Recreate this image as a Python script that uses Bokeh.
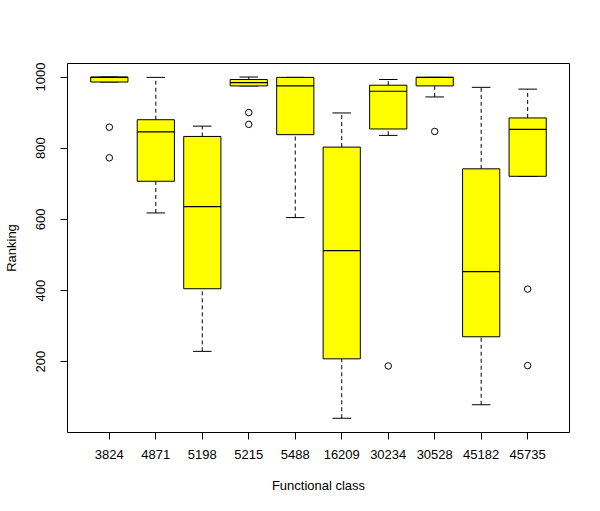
from bokeh.plotting import figure
from bokeh.models import Range1d, FixedTicker, ColumnDataSource
from bokeh.embed import file_html
from bokeh.resources import INLINE

categories = ["3824", "4871", "5198", "5215", "5488", "16209", "30234", "30528", "45182", "45735"]
whisker_low = [986, 618, 229, 975, 605, 41, 836, 944, 79, 721]
q1 = [986, 707, 405, 975, 838, 208, 854, 975, 270, 721]
median = [999, 846, 636, 984, 975, 512, 960, 999, 453, 853]
q3 = [1000, 880, 833, 993, 999, 803, 977, 999, 742, 885]
whisker_high = [1000, 999, 862, 1000, 999, 899, 993, 999, 971, 966]
outlier_cat = ["3824", "3824", "5215", "5215", "30234", "30528", "45735", "45735"]
outlier_val = [859, 773, 900, 867, 188, 847, 404, 189]
y_ticks = [200, 400, 600, 800, 1000]

FONT = "Liberation Sans"

xs = [i + 1 for i in range(len(categories))]
pos = {c: i + 1 for i, c in enumerate(categories)}

p = figure(width=592, height=503, output_backend="svg", toolbar_location=None,
           x_range=Range1d(0.1, 10.9), y_range=Range1d(1, 1038),
           min_border_left=64, min_border_right=23, min_border_top=63, min_border_bottom=71)
p.background_fill_color = "white"
p.border_fill_color = "white"
p.outline_line_color = "black"
p.outline_line_width = 1
p.grid.visible = False

src = ColumnDataSource(dict(x=xs, lo=whisker_low, q1=q1, med=median, q3=q3, hi=whisker_high,
                            x0=[x - 0.2 for x in xs], x1=[x + 0.2 for x in xs],
                            b0=[x - 0.4 for x in xs], b1=[x + 0.4 for x in xs]))

# whiskers (dashed)
p.segment(x0="x", y0="q3", x1="x", y1="hi", source=src, line_color="black", line_width=1, line_dash="4 3")
p.segment(x0="x", y0="lo", x1="x", y1="q1", source=src, line_color="black", line_width=1, line_dash="4 3")
# caps
p.segment(x0="x0", y0="hi", x1="x1", y1="hi", source=src, line_color="black", line_width=1)
p.segment(x0="x0", y0="lo", x1="x1", y1="lo", source=src, line_color="black", line_width=1)
# boxes
p.vbar(x="x", width=0.8, bottom="q1", top="q3", source=src, fill_color="#FFFF00",
       line_color="black", line_width=1)
# medians
p.segment(x0="b0", y0="med", x1="b1", y1="med", source=src, line_color="black", line_width=1.2)
# outliers
p.scatter(x=[pos[c] for c in outlier_cat], y=outlier_val, marker="circle", size=6.5,
          fill_color=None, line_color="black", line_width=1)

for ax in (p.xaxis[0], p.yaxis[0]):
    ax.axis_line_color = None
    ax.major_tick_line_color = "black"
    ax.major_tick_out = 7
    ax.major_tick_in = 0
    ax.minor_tick_line_color = None
    ax.major_label_text_font = FONT
    ax.major_label_text_font_size = "13px"
    ax.major_label_text_color = "black"
    ax.axis_label_text_font = FONT
    ax.axis_label_text_font_size = "13px"
    ax.axis_label_text_font_style = "normal"
    ax.axis_label_text_color = "black"

p.xaxis.ticker = FixedTicker(ticks=xs)
p.xaxis.major_label_overrides = {x: c for x, c in zip(xs, categories)}
p.xaxis.axis_label = "Functional class"
p.xaxis.major_label_standoff = 10
p.xaxis.axis_label_standoff = 16

p.yaxis.ticker = FixedTicker(ticks=y_ticks)
p.yaxis.major_label_orientation = "vertical"
p.yaxis.axis_label = "Ranking"
p.yaxis.major_label_standoff = 15
p.yaxis.axis_label_standoff = 15

open("out.html", "w").write(file_html(p, INLINE))
